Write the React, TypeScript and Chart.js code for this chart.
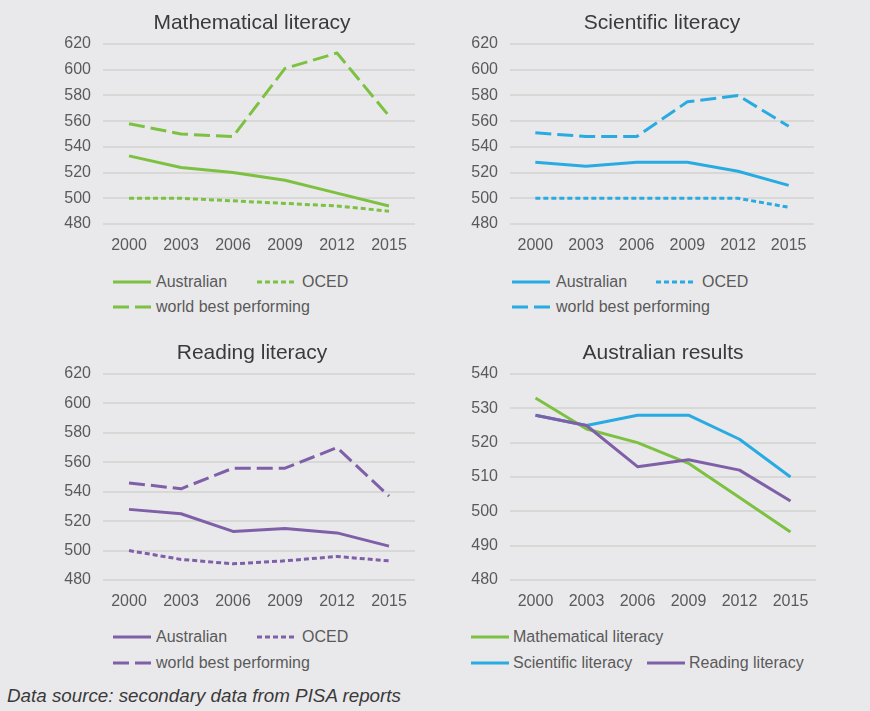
import React, { useEffect, useRef } from "react";
import { Chart, registerables } from "chart.js";

Chart.register(...registerables);

// ---------- data ----------
const years = ["2000", "2003", "2006", "2009", "2012", "2015"];

const mathAustralian = [533, 524, 520, 514, 504, 494];
const mathOECD = [500, 500, 498, 496, 494, 490];
const mathWorldBest = [558, 550, 548, 601, 613, 564];

const sciAustralian = [528, 525, 528, 528, 521, 510];
const sciOECD = [500, 500, 500, 500, 500, 493];
const sciWorldBest = [551, 548, 548, 575, 580, 556];

const readAustralian = [528, 525, 513, 515, 512, 503];
const readOECD = [500, 494, 491, 493, 496, 493];
const readWorldBest = [546, 542, 556, 556, 570, 537];

const literacyTicks = [480, 500, 520, 540, 560, 580, 600, 620];
const resultsTicks = [480, 490, 500, 510, 520, 530, 540];

const seriesLabels = ["Australian", "OCED", "world best performing"];
const subjectLabels = ["Mathematical literacy", "Scientific literacy", "Reading literacy"];

// ---------- styles ----------
const FONT = "'Liberation Sans', Arial, Helvetica, sans-serif";
const BG = "#E9E9EB";
const GRID = "#D8D8D6";
const TICK_COLOR = "#5a5a5a";
const TITLE_COLOR = "#3a3a3a";
const GREEN = "#7DC142";
const BLUE = "#29ABE2";
const PURPLE = "#7F60A8";
const SOLID: number[] = [];
const SHORT_DASH = [5, 3];
const LONG_DASH = [16, 6];
const LINE_W = 3;

type DS = { label: string; data: number[]; color: string; dash: number[]; order?: number };

type PanelProps = {
  left: number;
  top: number;
  width: number;
  height: number;
  title: string;
  titleX: number; // absolute page x of the title centre
  datasets: DS[];
  ticks: number[];
  chartLeft: number; // chart-area left, relative to canvas
  padRight: number;
};

const AXIS_W = 45;

const panelTitlePlugin = {
  id: "panelTitle",
  afterDraw(chart: any, _args: any, opts: any) {
    if (!opts || !opts.text) return;
    const ctx = chart.ctx;
    ctx.save();
    ctx.font = `normal 21px ${FONT}`;
    ctx.fillStyle = TITLE_COLOR;
    ctx.textAlign = "center";
    ctx.textBaseline = "alphabetic";
    ctx.fillText(opts.text, opts.x, opts.y);
    ctx.restore();
  },
};

function Panel(p: PanelProps) {
  const ref = useRef<HTMLCanvasElement | null>(null);
  useEffect(() => {
    if (!ref.current) return;
    const min = p.ticks[0];
    const max = p.ticks[p.ticks.length - 1];
    const step = p.ticks[1] - p.ticks[0];
    const chart = new Chart(ref.current, {
      type: "line",
      data: {
        labels: years,
        datasets: p.datasets.map((d) => ({
          label: d.label,
          data: d.data,
          borderColor: d.color,
          backgroundColor: d.color,
          borderWidth: LINE_W,
          borderDash: d.dash,
          borderCapStyle: "butt",
          borderJoinStyle: "round",
          pointRadius: 0,
          pointHoverRadius: 0,
          tension: 0,
          fill: false,
          order: d.order ?? 0,
        })),
      },
      plugins: [panelTitlePlugin],
      options: {
        animation: false,
        responsive: false,
        maintainAspectRatio: false,
        events: [],
        layout: { padding: { left: p.chartLeft - AXIS_W, right: p.padRight, top: 44, bottom: 0 } },
        plugins: {
          legend: { display: false },
          tooltip: { enabled: false },
          title: { display: false },
          panelTitle: { text: p.title, x: p.titleX - p.left, y: 29 },
        },
        scales: {
          x: {
            type: "category",
            offset: true,
            grid: { display: false, drawTicks: false },
            border: { display: false },
            ticks: {
              color: TICK_COLOR,
              font: { family: FONT, size: 16 },
              padding: 12,
              maxRotation: 0,
              autoSkip: false,
            },
            afterFit: (s: any) => {
              s.height = 35;
            },
          },
          y: {
            type: "linear",
            min,
            max,
            ticks: {
              stepSize: step,
              color: TICK_COLOR,
              font: { family: FONT, size: 16 },
              padding: 12,
            },
            grid: { color: GRID, lineWidth: 2, drawTicks: false },
            border: { display: false },
            afterFit: (s: any) => {
              s.width = AXIS_W;
            },
          },
        },
      } as any,
    });
    return () => chart.destroy();
  }, []);
  return (
    <canvas
      ref={ref}
      width={p.width}
      height={p.height}
      style={{ position: "absolute", left: p.left, top: p.top, width: p.width, height: p.height }}
    />
  );
}

function Swatch({ x, y, color, dash }: { x: number; y: number; color: string; dash: number[] }) {
  return (
    <svg
      width={38}
      height={6}
      style={{ position: "absolute", left: x, top: y - 3, overflow: "visible" }}
    >
      <line
        x1={0}
        y1={3}
        x2={38}
        y2={3}
        stroke={color}
        strokeWidth={LINE_W}
        strokeDasharray={dash.length ? dash.join(" ") : undefined}
      />
    </svg>
  );
}

function LegendItem({
  sx,
  tx,
  y,
  color,
  dash,
  label,
}: {
  sx: number;
  tx: number;
  y: number;
  color: string;
  dash: number[];
  label: string;
}) {
  return (
    <>
      <Swatch x={sx} y={y} color={color} dash={dash} />
      <span
        style={{
          position: "absolute",
          left: tx,
          top: y - 10,
          fontFamily: FONT,
          fontSize: 16,
          lineHeight: "20px",
          color: TICK_COLOR,
          whiteSpace: "nowrap",
        }}
      >
        {label}
      </span>
    </>
  );
}

export default function App() {
  useEffect(() => {
    document.body.style.margin = "0";
    document.body.style.background = BG;
  }, []);

  const mathSets: DS[] = [
    { label: seriesLabels[0], data: mathAustralian, color: GREEN, dash: SOLID },
    { label: seriesLabels[1], data: mathOECD, color: GREEN, dash: SHORT_DASH },
    { label: seriesLabels[2], data: mathWorldBest, color: GREEN, dash: LONG_DASH },
  ];
  const sciSets: DS[] = [
    { label: seriesLabels[0], data: sciAustralian, color: BLUE, dash: SOLID },
    { label: seriesLabels[1], data: sciOECD, color: BLUE, dash: SHORT_DASH },
    { label: seriesLabels[2], data: sciWorldBest, color: BLUE, dash: LONG_DASH },
  ];
  const readSets: DS[] = [
    { label: seriesLabels[0], data: readAustralian, color: PURPLE, dash: SOLID },
    { label: seriesLabels[1], data: readOECD, color: PURPLE, dash: SHORT_DASH },
    { label: seriesLabels[2], data: readWorldBest, color: PURPLE, dash: LONG_DASH },
  ];
  const ausSets: DS[] = [
    { label: subjectLabels[0], data: mathAustralian, color: GREEN, dash: SOLID, order: 1 },
    { label: subjectLabels[1], data: sciAustralian, color: BLUE, dash: SOLID, order: 2 },
    { label: subjectLabels[2], data: readAustralian, color: PURPLE, dash: SOLID, order: 0 },
  ];

  return (
    <div
      style={{
        position: "relative",
        width: 870,
        height: 711,
        background: BG,
        overflow: "hidden",
      }}
    >
      <Panel left={0} top={0} width={435} height={259} title="Mathematical literacy" titleX={252} datasets={mathSets} ticks={literacyTicks} chartLeft={103} padRight={20} />
      <Panel left={435} top={0} width={435} height={259} title="Scientific literacy" titleX={662} datasets={sciSets} ticks={literacyTicks} chartLeft={75} padRight={56} />
      <Panel left={0} top={330} width={435} height={285} title="Reading literacy" titleX={252} datasets={readSets} ticks={literacyTicks} chartLeft={103} padRight={20} />
      <Panel left={435} top={330} width={435} height={285} title="Australian results" titleX={663} datasets={ausSets} ticks={resultsTicks} chartLeft={75} padRight={54} />

      {/* Mathematical literacy legend */}
      <LegendItem sx={113} tx={156} y={282} color={GREEN} dash={SOLID} label={seriesLabels[0]} />
      <LegendItem sx={257} tx={302} y={282} color={GREEN} dash={SHORT_DASH} label={seriesLabels[1]} />
      <LegendItem sx={113} tx={156} y={307} color={GREEN} dash={LONG_DASH} label={seriesLabels[2]} />

      {/* Scientific literacy legend */}
      <LegendItem sx={512} tx={556} y={282} color={BLUE} dash={SOLID} label={seriesLabels[0]} />
      <LegendItem sx={656} tx={702} y={282} color={BLUE} dash={SHORT_DASH} label={seriesLabels[1]} />
      <LegendItem sx={512} tx={556} y={307} color={BLUE} dash={LONG_DASH} label={seriesLabels[2]} />

      {/* Reading literacy legend */}
      <LegendItem sx={113} tx={156} y={637} color={PURPLE} dash={SOLID} label={seriesLabels[0]} />
      <LegendItem sx={257} tx={302} y={637} color={PURPLE} dash={SHORT_DASH} label={seriesLabels[1]} />
      <LegendItem sx={113} tx={156} y={663} color={PURPLE} dash={LONG_DASH} label={seriesLabels[2]} />

      {/* Australian results legend */}
      <LegendItem sx={471} tx={513} y={637} color={GREEN} dash={SOLID} label={subjectLabels[0]} />
      <LegendItem sx={471} tx={513} y={663} color={BLUE} dash={SOLID} label={subjectLabels[1]} />
      <LegendItem sx={647} tx={689} y={663} color={PURPLE} dash={SOLID} label={subjectLabels[2]} />

      <div
        style={{
          position: "absolute",
          left: 7,
          top: 685,
          fontFamily: FONT,
          fontStyle: "italic",
          fontSize: 18.8,
          lineHeight: "22px",
          color: TITLE_COLOR,
          whiteSpace: "nowrap",
        }}
      >
        Data source: secondary data from PISA reports
      </div>
    </div>
  );
}
